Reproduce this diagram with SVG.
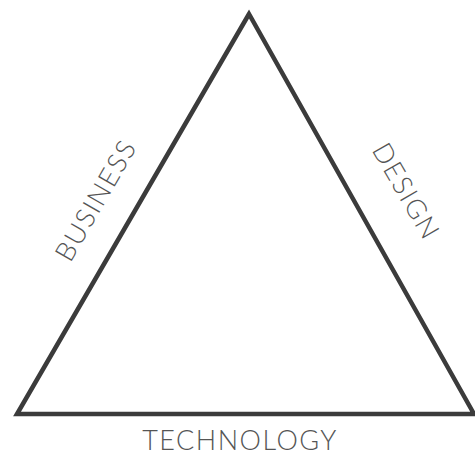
<svg xmlns="http://www.w3.org/2000/svg" width="475" height="456" viewBox="0 0 475 456">
<style>
.lbl{font-family:"Lato","Liberation Sans",sans-serif;font-weight:300;font-size:27px;letter-spacing:1.5px;fill:#555;text-anchor:middle}
.edge{fill:none;stroke:#3b3b3b;stroke-width:4.5;stroke-linejoin:miter}
</style>
<rect width="475" height="456" fill="#fff"/>
<g id="connectors">
<polygon class="edge" points="249,14 17,414 474,414"/>
</g>
<g id="business"><text class="lbl" transform="translate(104,205) rotate(-60)">BUSINESS</text></g>
<g id="design"><text class="lbl" transform="translate(398,196) rotate(60)">DESIGN</text></g>
<g id="technology"><text class="lbl" x="240" y="450">TECHNOLOGY</text></g>
</svg>
